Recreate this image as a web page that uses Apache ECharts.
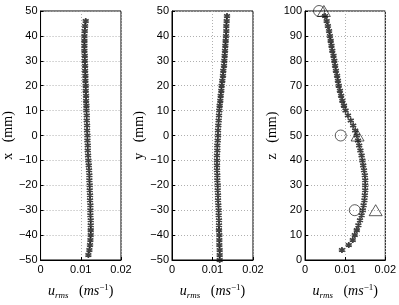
<!DOCTYPE html>
<html><head><meta charset="utf-8">
<script src="https://cdn.jsdelivr.net/npm/echarts@6/dist/echarts.min.js"></script>
<style>html,body{margin:0;padding:0;background:#fff}#c{width:399px;height:305px}</style>
</head><body><div id="c"></div>
<script>
// Panel 1: x profile
const xPos = [46,44,42,40,38,36,34,32,30,28,26,24,22,20,18,16,14,12,10,8,6,4,2,0,-2,-4,-6,-8,-10,-12,-14,-16,-18,-20,-22,-24,-26,-28,-30,-32,-34,-36,-38,-40,-42,-44,-46,-48];
const xUrms = [0.01123,0.01107,0.01099,0.01091,0.01091,0.01091,0.01091,0.01099,0.01099,0.01107,0.01107,0.01115,0.01115,0.01123,0.01123,0.01132,0.01132,0.01140,0.01140,0.01148,0.01148,0.01156,0.01156,0.01165,0.01165,0.01173,0.01173,0.01181,0.01189,0.01198,0.01206,0.01214,0.01214,0.01222,0.01222,0.01230,0.01230,0.01239,0.01239,0.01239,0.01247,0.01247,0.01247,0.01247,0.01239,0.01230,0.01214,0.01189];
// Panel 2: y profile
const yPos = [48,46,44,42,40,38,36,34,32,30,28,26,24,22,20,18,16,14,12,10,8,6,4,2,0,-2,-4,-6,-8,-10,-12,-14,-16,-18,-20,-22,-24,-26,-28,-30,-32,-34,-36,-38,-40,-42,-44,-46,-48,-50];
const yUrms = [0.01358,0.01350,0.01341,0.01341,0.01333,0.01325,0.01317,0.01309,0.01300,0.01292,0.01284,0.01267,0.01259,0.01243,0.01226,0.01218,0.01202,0.01193,0.01177,0.01169,0.01160,0.01152,0.01144,0.01136,0.01136,0.01128,0.01119,0.01119,0.01111,0.01111,0.01111,0.01111,0.01119,0.01119,0.01128,0.01128,0.01136,0.01136,0.01144,0.01152,0.01152,0.01160,0.01160,0.01160,0.01169,0.01169,0.01169,0.01177,0.01177,0.01177];
// Panel 3: z profile
const zPos = [4,6,8,10,12,14,16,18,20,22,24,26,28,30,32,34,36,38,40,42,44,46,48,50,52,54,56,58,60,62,64,66,68,70,72,74,76,78,80,82,84,86,88,90,92,94,96,98];
const zUrms = [0.0092,0.0109,0.0119,0.0124,0.0129,0.0133,0.0137,0.0141,0.0144,0.0146,0.0148,0.0149,0.0150,0.0150,0.0150,0.0149,0.0147,0.0145,0.0143,0.0141,0.0138,0.0135,0.0132,0.0129,0.0125,0.0120,0.0114,0.0107,0.0101,0.0097,0.0093,0.0090,0.0087,0.0084,0.0082,0.0080,0.0077,0.0075,0.0073,0.0071,0.0068,0.0066,0.0064,0.0062,0.0060,0.0057,0.0054,0.0050];
const circZ = [100,50,20];
const circU = [0.0035,0.0089,0.0124];
const triZ = [100,50,20];
const triU = [0.0047,0.0131,0.0176];
const pairs = (u, p) => u.map((v, i) => [v, p[i]]);

const chart = echarts.init(document.getElementById('c'));
const star = 'path://M0,-10L0,10M-8.66,-5L8.66,5M-8.66,5L8.66,-5';
const lbl = {color:'#000', fontFamily:'Liberation Sans', fontSize:11};
const gridLine = {show:true, lineStyle:{color:'#b0b0b0', type:[1,2], width:1}};
const xNameRich = {
  name: '{u|u}{s|rms}{n|   (}{u|ms}{p|−1}{n|)}',
  nameLocation:'middle', nameGap: 23,
  nameTextStyle: {rich:{
    u:{fontFamily:'Liberation Serif', fontStyle:'italic', fontSize:14, color:'#000'},
    s:{fontFamily:'Liberation Serif', fontStyle:'italic', fontSize:9, color:'#000', verticalAlign:'bottom', padding:[6,0,0,0]},
    p:{fontFamily:'Liberation Serif', fontSize:9, color:'#000', verticalAlign:'top', padding:[0,0,8,0]},
    n:{fontFamily:'Liberation Serif', fontSize:14, color:'#000'}
  }}
};
function mkX(i){
  return Object.assign({gridIndex:i, type:'value', min:0, max:0.02, interval:0.01,
    axisLine:{show:true, onZero:false, lineStyle:{color:'#000', width:1}},
    axisTick:{show:true, inside:true, length:3, lineStyle:{color:'#000'}},
    axisLabel:Object.assign({margin:4, formatter:v=>String(+v.toFixed(2))}, lbl),
    splitLine:gridLine}, xNameRich);
}
function mkY(i, min, max, name){
  return {gridIndex:i, type:'value', min:min, max:max, interval:10,
    name:name, nameLocation:'middle', nameGap:22,
    nameTextStyle:{fontFamily:'Liberation Serif', fontSize:14, color:'#000'},
    axisLine:{show:true, onZero:false, lineStyle:{color:'#000', width:1}},
    axisTick:{show:true, inside:true, length:3, lineStyle:{color:'#000'}},
    axisLabel:Object.assign({margin:3, formatter:v=>String(v).replace('-','−')}, lbl),
    splitLine:gridLine};
}
function starSeries(i, data){
  return {type:'scatter', xAxisIndex:i, yAxisIndex:i, data:data, symbol:star, symbolSize:6,
    clip:false, itemStyle:{color:'none', borderColor:'#111', borderWidth:1.7}};
}
chart.setOption({
  animation:false,
  grid:[
    {left:40, top:11, width:81, height:259, show:true, borderColor:'#000', borderWidth:1},
    {left:172, top:11, width:81, height:259, show:true, borderColor:'#000', borderWidth:1},
    {left:305, top:11, width:81, height:259, show:true, borderColor:'#000', borderWidth:1}
  ],
  xAxis:[mkX(0), mkX(1), mkX(2)],
  yAxis:[mkY(0,-50,50,'x   (mm)'), mkY(1,-50,50,'y   (mm)'), mkY(2,0,100,'z   (mm)')],
  series:[
    starSeries(0, pairs(xUrms, xPos)),
    starSeries(1, pairs(yUrms, yPos)),
    starSeries(2, pairs(zUrms, zPos)),
    {type:'scatter', xAxisIndex:2, yAxisIndex:2, data:pairs(circU, circZ), symbol:'circle', symbolSize:11,
      clip:false, itemStyle:{color:'none', borderColor:'#000', borderWidth:0.8}},
    {type:'scatter', xAxisIndex:2, yAxisIndex:2, data:pairs(triU, triZ), symbol:'triangle', symbolSize:[13,11],
      clip:false, itemStyle:{color:'none', borderColor:'#000', borderWidth:0.8}}
  ]
});
</script></body></html>
